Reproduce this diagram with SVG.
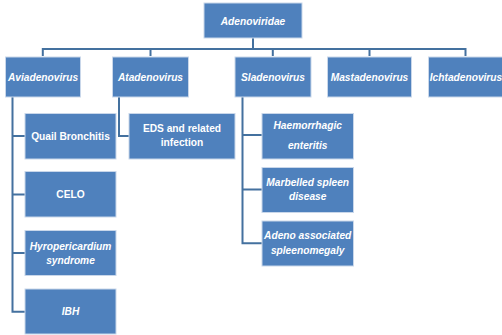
<svg xmlns="http://www.w3.org/2000/svg" width="502" height="335" viewBox="0 0 502 335">
<style>
.b{fill:#4F81BD;stroke:#c9d7ea;stroke-width:1}
.t{font-family:"Liberation Sans",Arial,sans-serif;font-size:10.2px;font-weight:bold;fill:#fff;text-anchor:middle}
.i{font-style:italic}
.c{fill:none;stroke:#44719f;stroke-width:2}
</style>
<rect width="502" height="335" fill="#fff"/>
<g id="connectors">
<path class="c" d="M253 38V49M42.8 56V49H465.5V56M150.5 49V56M272.8 49V56M369.5 49V56"/>
<path class="c" d="M12.5 97V311.7H25M12.5 136H25M12.5 194.5H25M12.5 253H25"/>
<path class="c" d="M119 97V136H129"/>
<path class="c" d="M242.5 97V243.3H262M242.5 135H262M242.5 189.5H262"/>
</g>
<g id="adenoviridae"><rect class="b" x="204" y="3" width="98" height="35"/><text class="t i" x="253" y="24.5">Adenoviridae</text></g>
<g id="aviadenovirus"><rect class="b" x="5.5" y="57" width="75" height="40"/><text class="t i" x="43" y="80.5">Aviadenovirus</text></g>
<g id="atadenovirus"><rect class="b" x="112.5" y="57" width="76" height="40"/><text class="t i" x="150.5" y="80.5">Atadenovirus</text></g>
<g id="sladenovirus"><rect class="b" x="235" y="57" width="76" height="40"/><text class="t i" x="273" y="80.5">Sladenovirus</text></g>
<g id="mastadenovirus"><rect class="b" x="327.5" y="57" width="84" height="40"/><text class="t i" x="369.5" y="80.5">Mastadenovirus</text></g>
<g id="ichtadenovirus"><rect class="b" x="428.5" y="57" width="74" height="40"/><text class="t i" x="466" y="80.5">Ichtadenovirus</text></g>
<g id="quail"><rect class="b" x="25" y="113.5" width="91" height="45.5"/><text class="t" x="70.5" y="139.5">Quail Bronchitis</text></g>
<g id="celo"><rect class="b" x="25" y="171.5" width="91" height="45.5"/><text class="t" x="70.5" y="197.5">CELO</text></g>
<g id="hyro"><rect class="b" x="25" y="230.5" width="91" height="45"/><text class="t i" x="70.5" y="249.5">Hyropericardium</text><text class="t i" x="70.5" y="263.5">syndrome</text></g>
<g id="ibh"><rect class="b" x="25" y="289" width="91" height="45"/><text class="t i" x="70.5" y="315">IBH</text></g>
<g id="eds"><rect class="b" x="129" y="113.5" width="106" height="45.5"/><text class="t" x="182" y="132">EDS and related</text><text class="t" x="182" y="146">infection</text></g>
<g id="haem"><rect class="b" x="262" y="113.5" width="91.5" height="45.5"/><text class="t i" x="307.7" y="129">Haemorrhagic</text><text class="t i" x="307.7" y="149">enteritis</text></g>
<g id="marbelled"><rect class="b" x="262" y="167.5" width="91.5" height="45"/><text class="t i" x="307.7" y="186">Marbelled spleen</text><text class="t i" x="307.7" y="200">disease</text></g>
<g id="adeno"><rect class="b" x="262" y="221" width="91.5" height="45"/><text class="t i" x="307.7" y="239">Adeno associated</text><text class="t i" x="307.7" y="254">spleenomegaly</text></g>
</svg>
